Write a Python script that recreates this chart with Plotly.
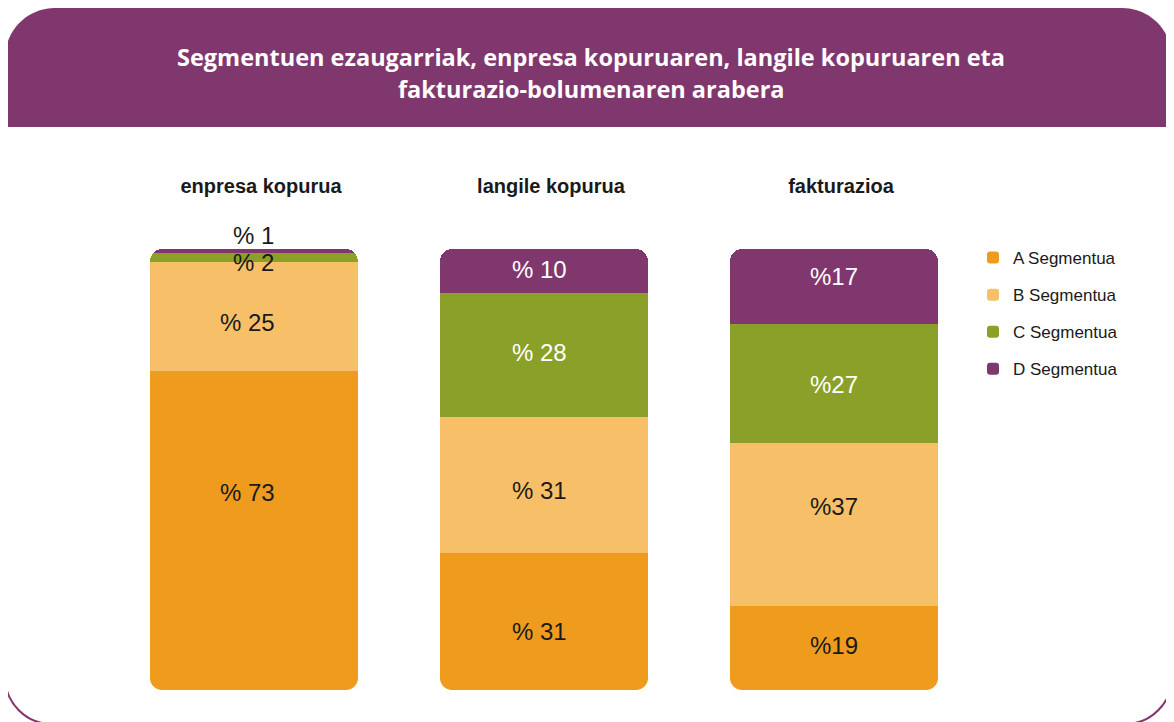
import plotly.graph_objects as go

# ---------------- data ----------------
categories = ["enpresa kopurua", "langile kopurua", "fakturazioa"]
series_names = ["A Segmentua", "B Segmentua", "C Segmentua", "D Segmentua"]
seg_A = [73, 31, 19]
seg_B = [25, 31, 37]
seg_C = [2, 28, 27]
seg_D = [1, 10, 17]
label_prefix = ["% ", "% ", "%"]
title_lines = ["Segmentuen ezaugarriak, enpresa kopuruaren, langile kopuruaren eta",
               "fakturazio-bolumenaren arabera"]

# ---------------- style ----------------
PURPLE = "#80376E"
ORANGE = "#EF9B1E"
LIGHT = "#F7C068"
GREEN = "#8BA028"
DARK = "#1a1a1a"
OFF = 8                      # page margin around the figure
W, H = 1174 - OFF, 722 - OFF
ML, MR, MT, MB = 101, 195, 241, 32
PW, PH = W - ML - MR, H - MT - MB
BARGAP = 0.283
CORNER = 12                  # px
LABEL_FONT = dict(family="Liberation Sans, Arial, sans-serif", size=24)
# per-label pixel nudges (style only), order: A, B, C, D ; per category
label_yshift = [[38, -10, 3], [-6, -6, 18], [-5, 2, -1], [16, 2, 10]]
label_xshift = [[-7, -5, 0], [-7, -5, 0], [-1, -5, 0], [-1, -5, 0]]


def px(x):
    return (x - OFF - ML) / PW


def py(y):
    return (H - MB - (y - OFF)) / PH


def path(points):
    out = []
    for cmd, pts in points:
        coords = " ".join(f"{px(a):.5f},{py(b):.5f}" for a, b in pts)
        out.append(f"{cmd}{coords}")
    return " ".join(out)


fig = go.Figure()

series = [
    (series_names[0], seg_A, ORANGE, [DARK] * 3),
    (series_names[1], seg_B, LIGHT, [DARK] * 3),
    (series_names[2], seg_C, GREEN, [DARK, "white", "white"]),
    (series_names[3], seg_D, PURPLE, [DARK, "white", "white"]),
]
for name, vals, col, _ in series:
    fig.add_trace(go.Bar(
        x=categories, y=vals, name=name, legendgroup=name,
        marker=dict(color=col, line=dict(width=0)),
        hoverinfo="skip",
    ))

# value labels placed at the middle of each (normalised) segment
totals = [a + b + c + d for a, b, c, d in zip(seg_A, seg_B, seg_C, seg_D)]
annotations = []
for j, cat in enumerate(categories):
    base = 0.0
    for s, (name, vals, col, tcols) in enumerate(series):
        h = vals[j] / totals[j] * 100
        annotations.append(dict(
            x=cat, y=base + h / 2, xref="x", yref="y",
            text=f"{label_prefix[j]}{vals[j]}", showarrow=False,
            xanchor="center", yanchor="middle",
            xshift=label_xshift[s][j], yshift=label_yshift[s][j],
            font=dict(**LABEL_FONT, color=tcols[j]),
        ))
        base += h

k = 0.5523
r = 50
x0, x1, y0, y1 = 5, 1172, 8, 127
header = path([
    ("M", [(x0, y1)]), ("L", [(x0, y0 + r)]),
    ("C", [(x0, y0 + r - k * r), (x0 + r - k * r, y0), (x0 + r, y0)]),
    ("L", [(x1 - r, y0)]),
    ("C", [(x1 - r + k * r, y0), (x1, y0 + r - k * r), (x1, y0 + r)]),
    ("L", [(x1, y1)]),
]) + " Z"

rb = 47
yb = 724
frame = path([
    ("M", [(x0, y1 - 5)]), ("L", [(x0, yb - rb)]),
    ("C", [(x0, yb - rb + k * rb), (x0 + rb - k * rb, yb), (x0 + rb, yb)]),
    ("L", [(x1 - rb, yb)]),
    ("C", [(x1 - rb + k * rb, yb), (x1, yb - rb + k * rb), (x1, yb - rb)]),
    ("L", [(x1, y1 - 5)]),
])

shapes = [
    dict(type="path", path=frame, xref="paper", yref="paper",
         line=dict(color=PURPLE, width=2), fillcolor="rgba(0,0,0,0)", layer="below"),
    dict(type="path", path=header, xref="paper", yref="paper",
         line=dict(width=0), fillcolor=PURPLE, layer="below"),
]

# white masks that round off the bottom corners of each bar (axis units)
half = (1 - BARGAP) / 2
rx = CORNER * 3 / PW          # x range spans 3 category units
ry = CORNER / PH              # in paper units (bar base is at paper y=0)
for i in range(len(categories)):
    xl, xr = i - half, i + half
    left = (f"M{xl:.5f},-0.001 L{xl:.5f},{ry:.5f} "
            f"C{xl:.5f},{ry*(1-k):.5f} {xl + rx*(1-k):.5f},0 {xl + rx:.5f},0 "
            f"L{xl + rx:.5f},-0.001 Z")
    right = (f"M{xr:.5f},-0.001 L{xr:.5f},{ry:.5f} "
             f"C{xr:.5f},{ry*(1-k):.5f} {xr - rx*(1-k):.5f},0 {xr - rx:.5f},0 "
             f"L{xr - rx:.5f},-0.001 Z")
    for p in (left, right):
        shapes.append(dict(type="path", path=p, xref="x", yref="paper",
                           line=dict(width=0), fillcolor="white", layer="above"))

title_font = dict(family="Open Sans, sans-serif", size=23.5, color="white", weight="bold")
annotations += [
    dict(text=title_lines[0], x=px(591), y=py(57), xref="paper", yref="paper",
         xanchor="center", yanchor="middle", showarrow=False, font=title_font),
    dict(text=title_lines[1], x=px(591), y=py(89), xref="paper", yref="paper",
         xanchor="center", yanchor="middle", showarrow=False, font=title_font),
]

fig.update_layout(
    width=W, height=H,
    margin=dict(l=ML, r=MR, t=MT, b=MB),
    paper_bgcolor="white", plot_bgcolor="white",
    barmode="stack", barnorm="percent",
    bargap=BARGAP,
    barcornerradius=CORNER,
    showlegend=True,
    legend=dict(x=px(973), y=py(240), xanchor="left", yanchor="top",
                traceorder="grouped", tracegroupgap=12,
                font=dict(family="Liberation Sans, Arial, sans-serif", size=17, color=DARK),
                itemclick=False, itemdoubleclick=False),
    xaxis=dict(side="top", showgrid=False, showline=False, zeroline=False, ticks="",
               ticklabelstandoff=51, ticklabelshift=7,
               tickfont=dict(family="Liberation Sans, Arial, sans-serif", size=20,
                             color=DARK, weight="bold"),
               range=[-0.5, 2.5], fixedrange=True),
    yaxis=dict(range=[0, 100], visible=False, fixedrange=True),
    shapes=shapes,
    annotations=annotations,
)

fig.write_html("out.html")
